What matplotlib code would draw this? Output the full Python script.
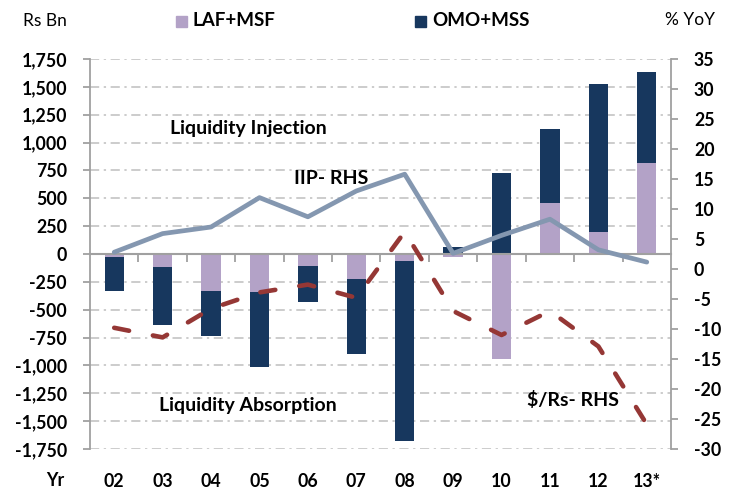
import matplotlib
matplotlib.use("Agg")
import matplotlib.pyplot as plt
from matplotlib.patches import Rectangle
import numpy as np

plt.rcParams['font.family'] = ['Lato', 'DejaVu Sans']

years = ["02", "03", "04", "05", "06", "07", "08", "09", "10", "11", "12", "13*"]
laf_msf = [-25, -115, -330, -345, -105, -225, -60, -30, -945, 455, 195, 815]
omo_mss = [-305, -525, -410, -670, -325, -675, -1615, 65, 730, 670, 1335, 820]
iip = [2.8, 5.9, 7.0, 11.9, 8.7, 13.0, 15.8, 2.6, 5.6, 8.3, 3.2, 1.15]
usd_inr = [-9.8, -11.4, -6.6, -3.9, -2.6, -4.8, 6.2, -7.0, -11.0, -7.0, -12.9, -25.9]

left_ticks = list(range(-1750, 1751, 250))
right_ticks = list(range(-30, 36, 5))

PURPLE = "#B3A2C7"
NAVY = "#17375E"
IIP_C = "#8497B0"
RED = "#953735"
GRID = "#BFBFBF"
SPINE = "#A0A0A0"

W, H = 738, 492
fig = plt.figure(figsize=(W / 100, H / 100), dpi=100)
ax = fig.add_axes([90 / W, 1 - 449 / H, (671 - 90) / W, (449 - 59) / H])

x = np.arange(len(years))
laf = np.array(laf_msf, dtype=float)
omo = np.array(omo_mss, dtype=float)
omo_bottom = np.where(np.sign(omo) == np.sign(laf), laf, 0.0)

ax.bar(x, laf, width=0.4, color=PURPLE, zorder=2)
ax.bar(x, omo, width=0.4, bottom=omo_bottom, color=NAVY, zorder=2)

ax.set_xlim(-0.5, len(years) - 0.5)
ax.set_ylim(-1750, 1750)
ax.set_yticks(left_ticks)
ax.set_yticklabels([f"{v:,}" for v in left_ticks])
ax.yaxis.grid(True, color=GRID, linewidth=1.1, linestyle=(0, (6, 3, 1.5, 3)), zorder=0)
ax.set_axisbelow(True)

for s in ["top", "right"]:
    ax.spines[s].set_visible(False)
ax.spines["left"].set_color(SPINE)
ax.spines["left"].set_linewidth(1.3)
ax.spines["bottom"].set_position(("data", 0))
ax.spines["bottom"].set_color(SPINE)
ax.spines["bottom"].set_linewidth(1.5)
ax.spines["bottom"].set_zorder(3)

ax.set_xticks(x)
ax.set_xticklabels([])
ax.set_xticks(np.arange(0.5, len(years) - 1, 1.0), minor=True)
ax.tick_params(axis="x", which="major", length=0)
ax.tick_params(axis="x", which="minor", length=6, width=1.3, color=SPINE, direction="out")
ax.tick_params(axis="y", length=5, width=1.3, color=SPINE, pad=11.5,
               labelsize=12.8)
for lbl in ax.get_yticklabels():
    lbl.set_fontweight("bold")

sec = ax.secondary_xaxis("bottom")
sec.set_xticks(x)
sec.set_xticklabels(years, fontsize=12.8, fontweight="bold")
sec.tick_params(length=0, pad=17)
sec.spines["bottom"].set_visible(False)

ax2 = ax.twinx()
ax2.set_ylim(-30, 35)
ax2.set_yticks(right_ticks)
ax2.set_yticklabels([str(v) for v in right_ticks])
for s in ["top", "left", "bottom"]:
    ax2.spines[s].set_visible(False)
ax2.spines["right"].set_color(SPINE)
ax2.spines["right"].set_linewidth(1.3)
ax2.tick_params(axis="y", length=5, width=1.3, color=SPINE, pad=11.5,
                labelsize=12.8)
for lbl in ax2.get_yticklabels():
    lbl.set_fontweight("bold")

ax2.plot(x, iip, color=IIP_C, linewidth=3.4, solid_joinstyle="round",
         solid_capstyle="round", zorder=4)
ax2.plot(x, usd_inr, color=RED, linewidth=3.3, linestyle=(0, (3.3, 5.3)),
         dash_capstyle="round", dash_joinstyle="round", zorder=5)

# annotations
ANN = 14
fig.text(248 / W, 1 - 128 / H, "Liquidity Injection", ha="center", va="center",
         fontsize=ANN, fontweight="bold")
fig.text(331 / W, 1 - 178 / H, "IIP- RHS", ha="center", va="center",
         fontsize=ANN, fontweight="bold")
fig.text(248 / W, 1 - 405 / H, "Liquidity Absorption", ha="center", va="center",
         fontsize=ANN, fontweight="bold")
fig.text(573 / W, 1 - 400 / H, "$/Rs- RHS", ha="center", va="center",
         fontsize=ANN, fontweight="bold")

# axis titles
fig.text(23 / W, 1 - 21 / H, "Rs Bn", ha="left", va="center", fontsize=12.5)
fig.text(665 / W, 1 - 20 / H, "% YoY", ha="left", va="center", fontsize=12.5)
fig.text(55 / W, 1 - 481 / H, "Yr", ha="center", va="center", fontsize=12.8,
         fontweight="bold")

# legend
for (sx, tx, col, name) in [(176, 193, PURPLE, "LAF+MSF"), (415, 432, NAVY, "OMO+MSS")]:
    fig.patches.append(Rectangle((sx / W, 1 - 27 / H), 11 / W, 11 / H,
                                 transform=fig.transFigure, color=col))
    fig.text(tx / W, 1 - 21 / H, name, ha="left", va="center", fontsize=13.5,
             fontweight="bold")

fig.savefig("out.png", dpi=100)
